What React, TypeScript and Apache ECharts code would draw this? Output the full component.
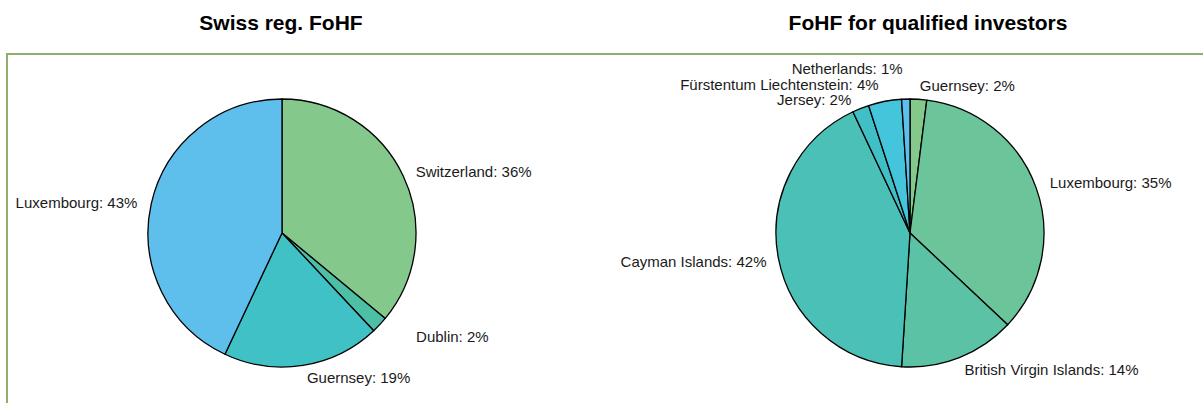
import React, { useEffect, useRef } from "react";
import * as echarts from "echarts";

const leftTitle = "Swiss reg. FoHF";
const leftNames = ["Switzerland", "Dublin", "Guernsey", "Luxembourg"];
const leftValues = [36, 2, 19, 43];
const leftColors = ["#84c98b", "#4dbfa7", "#40c1c6", "#5ebeec"];

const rightTitle = "FoHF for qualified investors";
const rightNames = [
  "Guernsey",
  "Luxembourg",
  "British Virgin Islands",
  "Cayman Islands",
  "Jersey",
  "Fürstentum Liechtenstein",
  "Netherlands",
];
const rightValues = [2, 35, 14, 42, 2, 4, 1];
const rightColors = ["#84c98b", "#6cc59a", "#5bc2a5", "#4bc0b6", "#41bfc7", "#45c5dc", "#5ebeec"];

// label nudges (layout only)
const leftNudge: [number, number][] = [[-2, -2], [23, 8], [-6, 6], [1, 0]];
const rightNudge: [number, number][] = [[-8, -8], [-1, -3], [-6, 6], [-2, 2], [37, -28], [40, -26], [6, -25]];

const FONT = "'Liberation Sans', Arial, sans-serif";

function makePie(
  names: string[],
  values: number[],
  colors: string[],
  center: [number, number],
  nudge: [number, number][]
) {
  return {
    type: "pie",
    center,
    radius: 134,
    startAngle: 90,
    clockwise: true,
    avoidLabelOverlap: true,
    label: {
      show: true,
      position: "outside",
      formatter: (p: any) => `${p.name}: ${p.value}%`,
      fontFamily: FONT,
      fontSize: 15,
      color: "#1a1a1a",
    },
    labelLine: { show: false, length: 6, length2: 4 },
    labelLayout: (p: any) => ({ dx: nudge[p.dataIndex][0], dy: nudge[p.dataIndex][1] }),
    itemStyle: { borderColor: "#000", borderWidth: 1.3 },
    emphasis: { disabled: true },
    data: names.map((n, i) => ({ name: n, value: values[i], itemStyle: { color: colors[i] } })),
  };
}

export default function App() {
  const ref = useRef<HTMLDivElement>(null);
  useEffect(() => {
    if (!ref.current) return;
    const chart = echarts.init(ref.current, null, { renderer: "svg" });
    chart.setOption({
      animation: false,
      backgroundColor: "#fff",
      title: [
        {
          text: leftTitle,
          left: 276,
          top: 7,
          textAlign: "center",
          textStyle: { fontFamily: FONT, fontSize: 21, fontWeight: "bold", color: "#000" },
        },
        {
          text: rightTitle,
          left: 923,
          top: 7,
          textAlign: "center",
          textStyle: { fontFamily: FONT, fontSize: 21, fontWeight: "bold", color: "#000" },
        },
      ],
      graphic: [
        {
          type: "polyline",
          shape: { points: [[7, 403], [7, 54], [1203, 54]] },
          style: { stroke: "#8fb06a", lineWidth: 2, fill: null },
          silent: true,
        },
      ],
      series: [
        makePie(leftNames, leftValues, leftColors, [282, 233], leftNudge),
        makePie(rightNames, rightValues, rightColors, [910, 233], rightNudge),
      ],
    });
    return () => chart.dispose();
  }, []);
  return (
    <div
      ref={ref}
      style={{ position: "fixed", left: 0, top: 0, width: 1203, height: 403, background: "#fff" }}
    />
  );
}
